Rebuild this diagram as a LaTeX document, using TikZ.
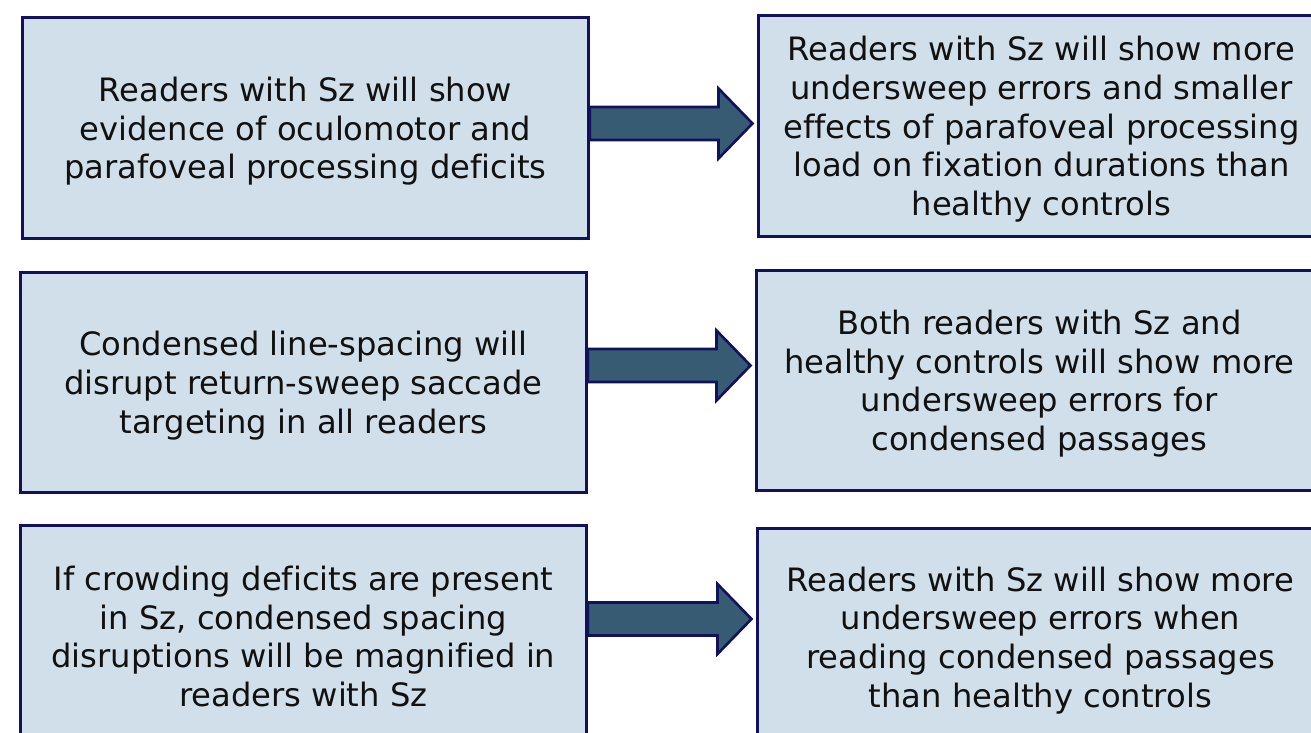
\documentclass[tikz,border=0pt]{standalone}
\usepackage{fontspec}
\setmainfont[Ligatures=CommonOff]{DejaVu Sans}
\usetikzlibrary{calc}
\definecolor{boxfill}{HTML}{D0DFE9}
\definecolor{boxline}{HTML}{12125C}
\definecolor{arrfill}{HTML}{365B73}
\definecolor{txt}{HTML}{111111}
\newcommand{\topstrut}{\rule{0pt}{31pt}}
\tikzset{
  hbox/.style={draw=boxline, line width=2.8pt, fill=boxfill, anchor=north west,
    minimum width=566pt, inner sep=0pt, align=center, text=txt,
    font=\fontsize{32.2pt}{38.7pt}\selectfont},
  blockarr/.style={draw=boxline, line width=2.6pt, fill=arrfill, line join=miter},
}
\newcommand{\blockarrow}[3]{%
  \draw[blockarr] let \p1=(#1.east|-#3), \p2=($(#2.west|-#3)+(-4.5pt,0)$) in
    (\x1,\y1+16.5pt) -- (\x2-34pt,\y1+16.5pt) -- (\x2-34pt,\y1+35pt) -- (\x2,\y1)
    -- (\x2-34pt,\y1-35pt) -- (\x2-34pt,\y1-16.5pt) -- (\x1,\y1-16.5pt) -- cycle;}
\begin{document}
\begin{tikzpicture}[x=1pt,y=-1pt]
\useasboundingbox (0,0) rectangle (1311,733);
\clip (0,0) rectangle (1311,733);
\node[hbox, minimum height=221pt] (b1) at (21,16)
  {\topstrut Readers with Sz will show\\evidence of oculomotor and\\parafoveal processing deficits};
\node[hbox, minimum height=221pt] (b2) at (757,14)
  {\topstrut Readers with Sz will show more\\undersweep errors and smaller\\effects of parafoveal processing\\load on fixation durations than\\healthy controls};
\node[hbox, minimum height=220pt] (b3) at (19,271)
  {\topstrut Condensed line-spacing will\\disrupt return-sweep saccade\\targeting in all readers};
\node[hbox, minimum height=220pt] (b4) at (755,269)
  {\topstrut Both readers with Sz and\\healthy controls will show more\\undersweep errors for\\condensed passages};
\node[hbox, minimum height=222pt] (b5) at (19,524)
  {If crowding deficits are present\\in Sz, condensed spacing\\disruptions will be magnified in\\readers with Sz};
\node[hbox, minimum height=224pt] (b6) at (756,527)
  {Readers with Sz will show more\\undersweep errors when\\reading condensed passages\\than healthy controls};
\coordinate (y1) at (0,123.5);
\coordinate (y2) at (0,365.5);
\coordinate (y3) at (0,619);
\blockarrow{b1}{b2}{y1}
\blockarrow{b3}{b4}{y2}
\blockarrow{b5}{b6}{y3}
\end{tikzpicture}
\end{document}
